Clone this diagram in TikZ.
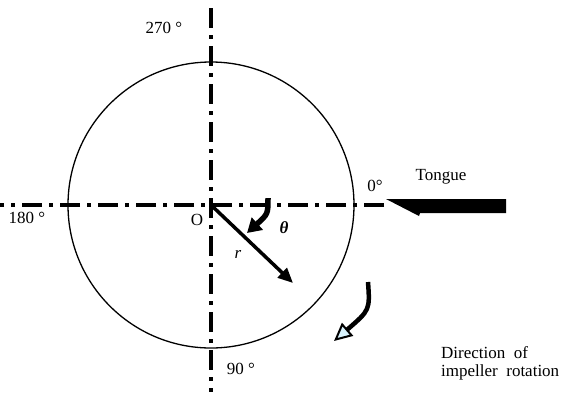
\documentclass[tikz,border=0pt]{standalone}
\usepackage{fontspec}
\setmainfont{Liberation Serif}
\usetikzlibrary{arrows.meta}
\begin{document}
\begin{tikzpicture}[x=1pt,y=-1pt,
  axisline/.style={line width=3.5pt, dash pattern=on 20pt off 7pt on 4pt off 7pt},
  lbl/.style={font=\fontsize{17}{18}\selectfont, inner sep=0pt}]
\useasboundingbox (0,0) rectangle (574,392);
\coordinate (O) at (211,205);
\draw[line width=1.3pt] (O) circle[radius=143];
% axes
\coordinate (hl) at (0,205);
\coordinate (hr) at (384,205);
\coordinate (vt) at (211,8);
\coordinate (vb) at (211,392);
\draw[axisline] (hr) -- (hl);
\draw[axisline] (vt) -- (vb);
% r arrow
\coordinate (rend) at (293,283);
\draw[line width=3.5pt, -{Triangle[length=15pt,width=13pt]}] (O) -- (rend);
% theta arrow
\coordinate (ths) at (268,198);
\coordinate (the) at (247,233);
\draw[line width=5.5pt, -{Triangle[length=14pt,width=16pt]}] (ths) .. controls (268,214) .. (the);
% tongue arrow
\fill (386,199) -- (506,199) -- (506,213) -- (420,213) -- (419,216) -- cycle;
% rotation arrow
\coordinate (rs) at (368,282);
\coordinate (re) at (334,341);
\draw[line width=4.5pt, -{Triangle[open,length=18pt,width=17pt,fill=cyan!15,line width=2pt]}] (rs) .. controls (370,310) .. (re);
% labels
\node[lbl] (t270) at (164,28) {270 °};
\node[lbl] (t180) at (27,218) {180 °};
\node[lbl] (t0) at (375,186) {0°};
\node[lbl] (t90) at (241,369) {90 °};
\node[lbl] (tO) at (197,220) {O};
\node[lbl] (tth) at (284,228) {\textbf{\textit{θ}}};
\node[lbl] (tr) at (238,254) {\textit{r}};
\node[lbl] (tongue) at (441,177) {Tongue};
\node[lbl, align=left, anchor=north west] (dir) at (441,346) {Direction\ \ of\\impeller\ \ rotation};
\end{tikzpicture}
\end{document}
